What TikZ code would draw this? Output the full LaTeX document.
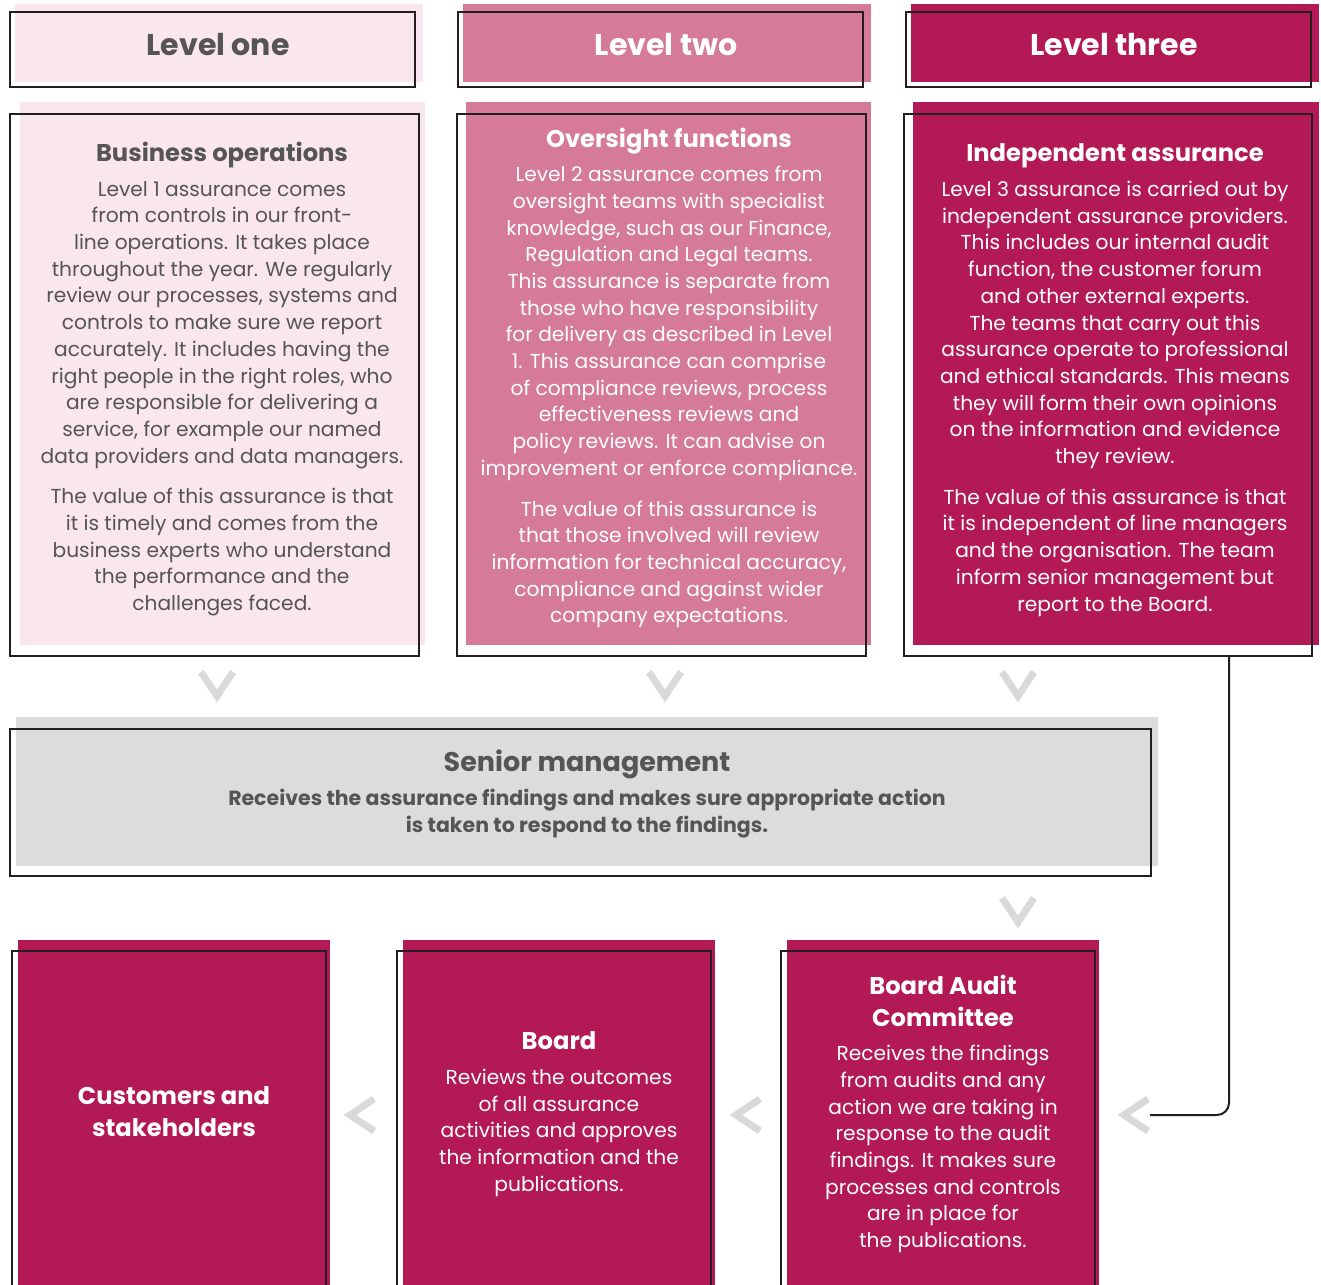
\documentclass[tikz,border=0pt]{standalone}
\usepackage{fontspec}
\setmainfont{Poppins}
\usetikzlibrary{positioning}

\definecolor{pinklight}{HTML}{F9E6EE}
\definecolor{pinkmid}{HTML}{D57A99}
\definecolor{pinkdark}{HTML}{B31A55}
\definecolor{greyfill}{HTML}{DCDCDC}
\definecolor{greytext}{HTML}{555555}
\definecolor{chevgrey}{HTML}{D9D9D9}
\definecolor{rimgrey}{HTML}{231F20}

\tikzset{
  bg/.style 2 args={anchor=north west, inner sep=0pt, outer sep=0pt,
    minimum width=#1, minimum height=#2},
  rim/.style 2 args={bg={#1}{#2}, draw=rimgrey, line width=2pt},
  headtxt/.style={font=\fontsize{30}{34}\selectfont\bfseries},
  titletxt/.style={font=\fontsize{24.2}{32}\selectfont\bfseries, align=center, inner sep=0pt},
  bodytxt/.style={font=\fontsize{20.2}{26.7}\selectfont, align=center, inner sep=0pt},
  chev/.style={draw=chevgrey, line width=7pt},
  link/.style={draw=rimgrey, line width=2pt, rounded corners=12pt},
}

\begin{document}
\begin{tikzpicture}[x=1pt,y=-1pt]
  \clip (0,0) rectangle (1321,1284);
  \fill[white] (0,0) rectangle (1321,1284);

  % level headers
  \node[bg={408}{78}, fill=pinklight] (h1bg) at (15,4) {};
  \node[rim={405}{75}] (h1) at (10,12) {};
  \node[headtxt, text=greytext] (h1txt) at (218,45) {Level one};

  \node[bg={408}{78}, fill=pinkmid] (h2bg) at (463,4) {};
  \node[rim={405}{75}] (h2) at (458,12) {};
  \node[headtxt, text=white] (h2txt) at (666,45) {Level two};

  \node[bg={408}{78}, fill=pinkdark] (h3bg) at (911,4) {};
  \node[rim={405}{75}] (h3) at (906,12) {};
  \node[headtxt, text=white] (h3txt) at (1114,45) {Level three};

  % level boxes
  \node[bg={405}{543}, fill=pinklight] (b1bg) at (20,102) {};
  \node[rim={409}{542}] (b1) at (10,114) {};
  \node[titletxt, text=greytext] (b1title) at (222,155) {Business operations};
  \node[bodytxt, text=greytext, anchor=north] (b1txt) at (222,181) {
    Level 1 assurance comes\\
    from controls in our front-\\
    line operations. It takes place\\
    throughout the year. We regularly\\
    review our processes, systems and\\
    controls to make sure we report\\
    accurately. It includes having the\\
    right people in the right roles, who\\
    are responsible for delivering a\\
    service, for example our named\\
    data providers and data managers.\\[14pt]
    The value of this assurance is that\\
    it is timely and comes from the\\
    business experts who understand\\
    the performance and the\\
    challenges faced.};

  \node[bg={405}{543}, fill=pinkmid] (b2bg) at (466,102) {};
  \node[rim={409}{542}] (b2) at (457,114) {};
  \node[titletxt, text=white] (b2title) at (669,141) {Oversight functions};
  \node[bodytxt, text=white, anchor=north] (b2txt) at (669,166) {
    Level 2 assurance comes from\\
    oversight teams with specialist\\
    knowledge, such as our Finance,\\
    Regulation and Legal teams.\\
    This assurance is separate from\\
    those who have responsibility\\
    for delivery as described in Level\\
    1. This assurance can comprise\\
    of compliance reviews, process\\
    effectiveness reviews and\\
    policy reviews. It can advise on\\
    improvement or enforce compliance.\\[14pt]
    The value of this assurance is\\
    that those involved will review\\
    information for technical accuracy,\\
    compliance and against wider\\
    company expectations.};

  \node[bg={406}{543}, fill=pinkdark] (b3bg) at (913,102) {};
  \node[rim={408}{542}] (b3) at (904,114) {};
  \node[titletxt, text=white] (b3title) at (1115,156) {Independent assurance};
  \node[bodytxt, text=white, anchor=north] (b3txt) at (1115,181) {
    Level 3 assurance is carried out by\\
    independent assurance providers.\\
    This includes our internal audit\\
    function, the customer forum\\
    and other external experts.\\
    The teams that carry out this\\
    assurance operate to professional\\
    and ethical standards. This means\\
    they will form their own opinions\\
    on the information and evidence\\
    they review.\\[14pt]
    The value of this assurance is that\\
    it is independent of line managers\\
    and the organisation. The team\\
    inform senior management but\\
    report to the Board.};

  % senior management
  \node[bg={1142}{149}, fill=greyfill] (smbg) at (16,717) {};
  \node[rim={1141}{147}] (sm) at (10,729) {};
  \node[titletxt, text=greytext, font=\fontsize{27}{32}\selectfont\bfseries] (smtitle) at (587,764) {Senior management};
  \node[bodytxt, text=greytext, font=\fontsize{20.5}{26.5}\selectfont\bfseries, anchor=north] (smtxt) at (587,789) {
    Receives the assurance findings and makes sure appropriate action\\
    is taken to respond to the findings.};

  % bottom row
  \node[bg={312}{360}, fill=pinkdark] (cubg) at (18,940) {};
  \node[rim={314}{350}] (cu) at (12,951) {};
  \node[titletxt, text=white, font=\fontsize{24.2}{32}\selectfont\bfseries] (cutitle) at (174,1112) {Customers and\\stakeholders};

  \node[bg={312}{360}, fill=pinkdark] (bdbg) at (403,940) {};
  \node[rim={314}{350}] (bd) at (397,951) {};
  \node[titletxt, text=white] (bdtitle) at (559,1041) {Board};
  \node[bodytxt, text=white, anchor=north] (bdtxt) at (559,1069) {
    Reviews the outcomes\\
    of all assurance\\
    activities and approves\\
    the information and the\\
    publications.};

  \node[bg={312}{360}, fill=pinkdark] (babg) at (787,940) {};
  \node[rim={314}{350}] (ba) at (781,951) {};
  \node[titletxt, text=white] (batitle) at (943,1001) {Board Audit\\Committee};
  \node[bodytxt, text=white, anchor=north] (batxt) at (943,1045) {
    Receives the findings\\
    from audits and any\\
    action we are taking in\\
    response to the audit\\
    findings. It makes sure\\
    processes and controls\\
    are in place for\\
    the publications.};

  % chevrons
  \coordinate (v1) at (217,684);
  \coordinate (v2) at (665,684);
  \coordinate (v3) at (1018,684);
  \coordinate (v4) at (1018,910);
  \foreach \c in {v1,v2,v3,v4}
    \draw[chev] (\c) ++(-16,-12) -- ++(16,24) -- ++(16,-24);
  \coordinate (w1) at (361,1115);
  \coordinate (w2) at (747,1115);
  \coordinate (w3) at (1135,1115);
  \foreach \c in {w1,w2,w3}
    \draw[chev] (\c) ++(13,-16) -- ++(-24,16) -- ++(24,16);

  % line from level three to the committee
  \coordinate (tap) at (1229,0);
  \coordinate (lend) at (1150,1115);
  \draw[link] (b3.south -| tap) |- (lend);
\end{tikzpicture}
\end{document}
